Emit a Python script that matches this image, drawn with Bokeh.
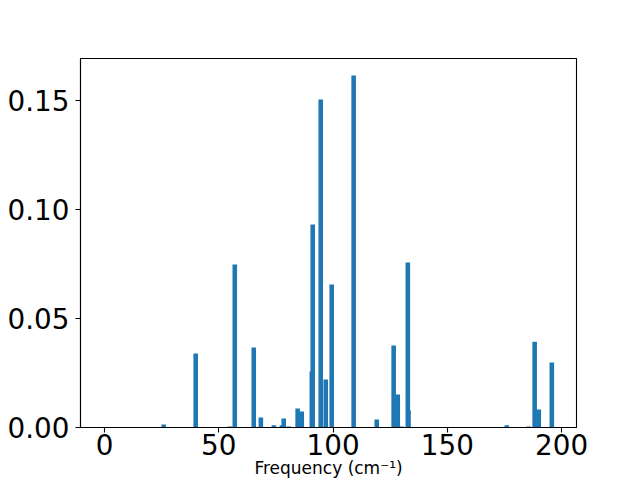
from bokeh.plotting import figure
from bokeh.models import FixedTicker, NumeralTickFormatter, Range1d
from bokeh.embed import file_html
from bokeh.resources import INLINE

freqs = [25.9, 39.9, 54.8, 57.0, 65.3, 68.4, 74.1, 77.6, 78.4, 80.6, 84.5, 86.3,
         90.7, 91.1, 94.6, 96.8, 99.4, 109.0, 119.1, 126.5, 128.3, 130.0, 132.7,
         133.0, 176.0, 185.6, 188.2, 190.0, 195.7]
intens = [0.0014, 0.034, 0.0005, 0.0748, 0.0367, 0.0046, 0.001, 0.001, 0.0041,
          0.0005, 0.0087, 0.0073, 0.0257, 0.0931, 0.1505, 0.022, 0.0656, 0.1615,
          0.0037, 0.0376, 0.0151, 0.0005, 0.0757, 0.0078, 0.001, 0.0005, 0.0394,
          0.0083, 0.0298]
x_ticks = [0, 50, 100, 150, 200]
y_ticks = [0.0, 0.05, 0.10, 0.15]
x_label = "Frequency (cm\u207b\u00b9)"

FONT = "DejaVu Sans"
FS = "27.8px"

p = figure(width=640, height=480, output_backend="svg", toolbar_location=None,
           x_range=Range1d(-10.5, 206.5), y_range=Range1d(0, 0.1693),
           min_border_left=80, min_border_right=64, min_border_top=58,
           min_border_bottom=0)
p.background_fill_color = "white"
p.border_fill_color = "white"
p.outline_line_color = "black"
p.outline_line_width = 1.1
p.grid.visible = False

p.vbar(x=freqs, top=intens, bottom=0, width=2.0, fill_color="#1f77b4",
       line_color=None)

for ax in (p.xaxis[0], p.yaxis[0]):
    ax.major_label_text_font = FONT
    ax.major_label_text_font_size = FS
    ax.major_label_text_color = "black"
    ax.major_tick_in = 0
    ax.major_tick_out = 5
    ax.minor_tick_in = 0
    ax.minor_tick_out = 0
    ax.axis_line_width = 1.1
    ax.major_tick_line_width = 1.1

p.yaxis.major_label_standoff = 6
p.xaxis.major_label_standoff = 1

p.xaxis.ticker = FixedTicker(ticks=x_ticks)
p.yaxis.ticker = FixedTicker(ticks=y_ticks)
p.yaxis.formatter = NumeralTickFormatter(format="0.00")

p.xaxis.axis_label = x_label
p.xaxis.axis_label_text_font = FONT
p.xaxis.axis_label_text_font_size = "17px"
p.xaxis.axis_label_text_font_style = "normal"
p.xaxis.axis_label_text_color = "black"
p.xaxis.axis_label_standoff = 0

open("out.html", "w").write(file_html(p, INLINE))
